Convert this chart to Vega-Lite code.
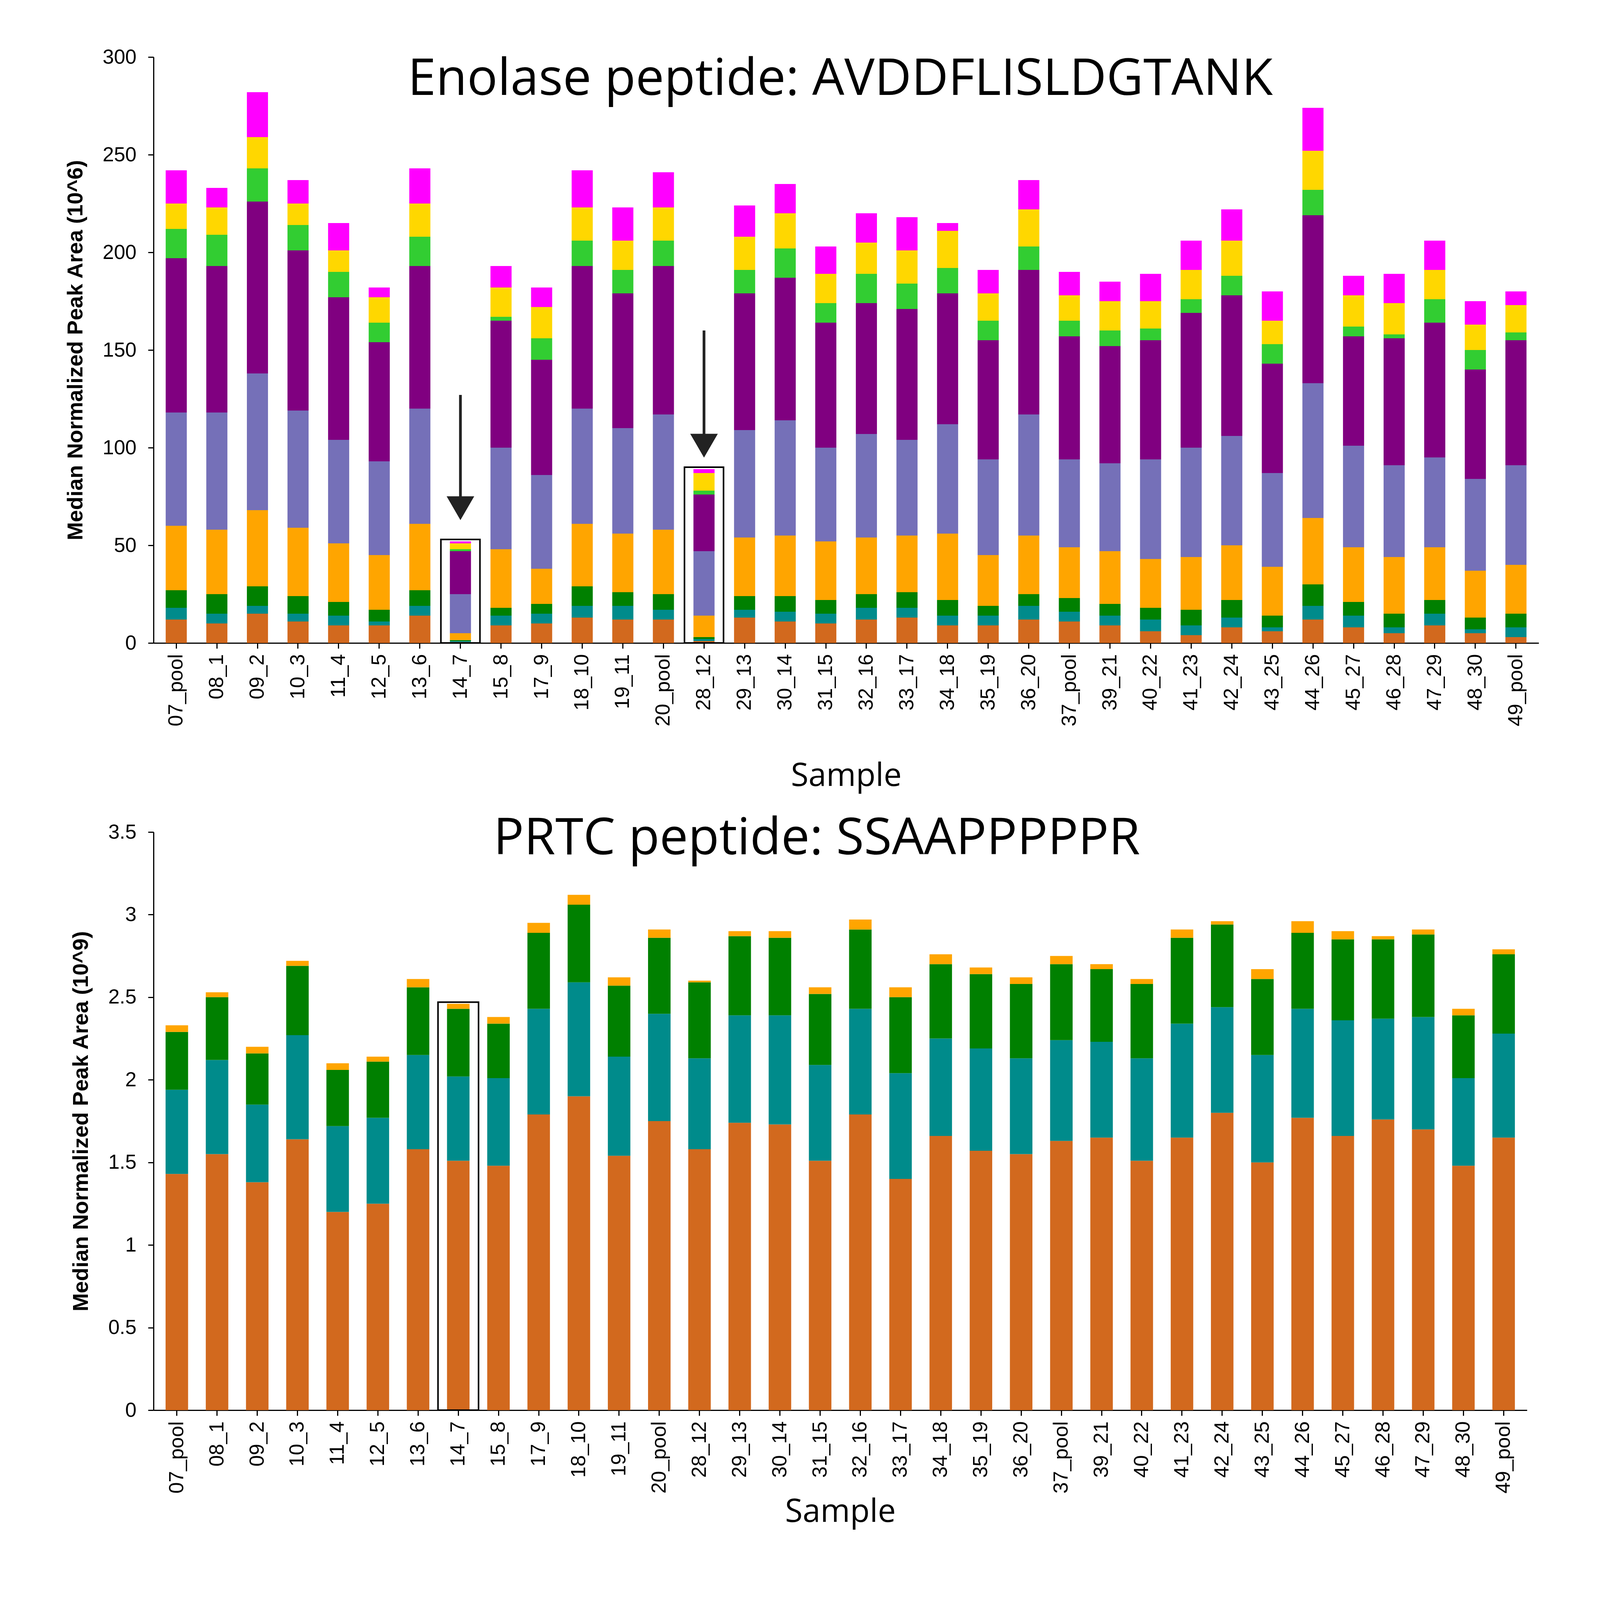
{
  "$schema": "https://vega.github.io/schema/vega-lite/v6.json",
  "background": "white",
  "padding": {"left": 165, "top": 120, "right": 40, "bottom": 20},
  "spacing": 56,
  "config": {
    "font": "Liberation Sans",
    "view": {"stroke": null},
    "axis": {"grid": false, "domainColor": "black", "tickColor": "black", "labelColor": "black", "titleColor": "black", "labelFontSize": 52, "tickSize": 14, "domainWidth": 3, "tickWidth": 3, "labelLimit": 0},
    "title": {"font": "Open Sans", "fontSize": 130, "fontWeight": "normal", "color": "black"}
  },
  "datasets": {
    "eno": [
      {"s": "07_pool", "k1": 12, "k2": 18, "k3": 27, "k4": 60, "k5": 118, "k6": 197, "k7": 212, "k8": 225, "k9": 242},
      {"s": "08_1", "k1": 10, "k2": 15, "k3": 25, "k4": 58, "k5": 118, "k6": 193, "k7": 209, "k8": 223, "k9": 233},
      {"s": "09_2", "k1": 15, "k2": 19, "k3": 29, "k4": 68, "k5": 138, "k6": 226, "k7": 243, "k8": 259, "k9": 282},
      {"s": "10_3", "k1": 11, "k2": 15, "k3": 24, "k4": 59, "k5": 119, "k6": 201, "k7": 214, "k8": 225, "k9": 237},
      {"s": "11_4", "k1": 9, "k2": 14, "k3": 21, "k4": 51, "k5": 104, "k6": 177, "k7": 190, "k8": 201, "k9": 215},
      {"s": "12_5", "k1": 9, "k2": 11, "k3": 17, "k4": 45, "k5": 93, "k6": 154, "k7": 164, "k8": 177, "k9": 182},
      {"s": "13_6", "k1": 14, "k2": 19, "k3": 27, "k4": 61, "k5": 120, "k6": 193, "k7": 208, "k8": 225, "k9": 243},
      {"s": "14_7", "k1": 0.5, "k2": 1, "k3": 1.5, "k4": 5, "k5": 25, "k6": 47, "k7": 48, "k8": 51, "k9": 52},
      {"s": "15_8", "k1": 9, "k2": 14, "k3": 18, "k4": 48, "k5": 100, "k6": 165, "k7": 167, "k8": 182, "k9": 193},
      {"s": "17_9", "k1": 10, "k2": 15, "k3": 20, "k4": 38, "k5": 86, "k6": 145, "k7": 156, "k8": 172, "k9": 182},
      {"s": "18_10", "k1": 13, "k2": 19, "k3": 29, "k4": 61, "k5": 120, "k6": 193, "k7": 206, "k8": 223, "k9": 242},
      {"s": "19_11", "k1": 12, "k2": 19, "k3": 26, "k4": 56, "k5": 110, "k6": 179, "k7": 191, "k8": 206, "k9": 223},
      {"s": "20_pool", "k1": 12, "k2": 17, "k3": 25, "k4": 58, "k5": 117, "k6": 193, "k7": 206, "k8": 223, "k9": 241},
      {"s": "28_12", "k1": 1, "k2": 2, "k3": 3, "k4": 14, "k5": 47, "k6": 76, "k7": 78, "k8": 87, "k9": 89},
      {"s": "29_13", "k1": 13, "k2": 17, "k3": 24, "k4": 54, "k5": 109, "k6": 179, "k7": 191, "k8": 208, "k9": 224},
      {"s": "30_14", "k1": 11, "k2": 16, "k3": 24, "k4": 55, "k5": 114, "k6": 187, "k7": 202, "k8": 220, "k9": 235},
      {"s": "31_15", "k1": 10, "k2": 15, "k3": 22, "k4": 52, "k5": 100, "k6": 164, "k7": 174, "k8": 189, "k9": 203},
      {"s": "32_16", "k1": 12, "k2": 18, "k3": 25, "k4": 54, "k5": 107, "k6": 174, "k7": 189, "k8": 205, "k9": 220},
      {"s": "33_17", "k1": 13, "k2": 18, "k3": 26, "k4": 55, "k5": 104, "k6": 171, "k7": 184, "k8": 201, "k9": 218},
      {"s": "34_18", "k1": 9, "k2": 14, "k3": 22, "k4": 56, "k5": 112, "k6": 179, "k7": 192, "k8": 211, "k9": 215},
      {"s": "35_19", "k1": 9, "k2": 14, "k3": 19, "k4": 45, "k5": 94, "k6": 155, "k7": 165, "k8": 179, "k9": 191},
      {"s": "36_20", "k1": 12, "k2": 19, "k3": 25, "k4": 55, "k5": 117, "k6": 191, "k7": 203, "k8": 222, "k9": 237},
      {"s": "37_pool", "k1": 11, "k2": 16, "k3": 23, "k4": 49, "k5": 94, "k6": 157, "k7": 165, "k8": 178, "k9": 190},
      {"s": "39_21", "k1": 9, "k2": 14, "k3": 20, "k4": 47, "k5": 92, "k6": 152, "k7": 160, "k8": 175, "k9": 185},
      {"s": "40_22", "k1": 6, "k2": 12, "k3": 18, "k4": 43, "k5": 94, "k6": 155, "k7": 161, "k8": 175, "k9": 189},
      {"s": "41_23", "k1": 4, "k2": 9, "k3": 17, "k4": 44, "k5": 100, "k6": 169, "k7": 176, "k8": 191, "k9": 206},
      {"s": "42_24", "k1": 8, "k2": 13, "k3": 22, "k4": 50, "k5": 106, "k6": 178, "k7": 188, "k8": 206, "k9": 222},
      {"s": "43_25", "k1": 6, "k2": 8, "k3": 14, "k4": 39, "k5": 87, "k6": 143, "k7": 153, "k8": 165, "k9": 180},
      {"s": "44_26", "k1": 12, "k2": 19, "k3": 30, "k4": 64, "k5": 133, "k6": 219, "k7": 232, "k8": 252, "k9": 274},
      {"s": "45_27", "k1": 8, "k2": 14, "k3": 21, "k4": 49, "k5": 101, "k6": 157, "k7": 162, "k8": 178, "k9": 188},
      {"s": "46_28", "k1": 5, "k2": 8, "k3": 15, "k4": 44, "k5": 91, "k6": 156, "k7": 158, "k8": 174, "k9": 189},
      {"s": "47_29", "k1": 9, "k2": 15, "k3": 22, "k4": 49, "k5": 95, "k6": 164, "k7": 176, "k8": 191, "k9": 206},
      {"s": "48_30", "k1": 5, "k2": 7, "k3": 13, "k4": 37, "k5": 84, "k6": 140, "k7": 150, "k8": 163, "k9": 175},
      {"s": "49_pool", "k1": 3, "k2": 8, "k3": 15, "k4": 40, "k5": 91, "k6": 155, "k7": 159, "k8": 173, "k9": 180}
    ],
    "prtc": [
      {"s": "07_pool", "k1": 1.43, "k2": 1.94, "k3": 2.29, "k4": 2.33},
      {"s": "08_1", "k1": 1.55, "k2": 2.12, "k3": 2.5, "k4": 2.53},
      {"s": "09_2", "k1": 1.38, "k2": 1.85, "k3": 2.16, "k4": 2.2},
      {"s": "10_3", "k1": 1.64, "k2": 2.27, "k3": 2.69, "k4": 2.72},
      {"s": "11_4", "k1": 1.2, "k2": 1.72, "k3": 2.06, "k4": 2.1},
      {"s": "12_5", "k1": 1.25, "k2": 1.77, "k3": 2.11, "k4": 2.14},
      {"s": "13_6", "k1": 1.58, "k2": 2.15, "k3": 2.56, "k4": 2.61},
      {"s": "14_7", "k1": 1.51, "k2": 2.02, "k3": 2.43, "k4": 2.46},
      {"s": "15_8", "k1": 1.48, "k2": 2.01, "k3": 2.34, "k4": 2.38},
      {"s": "17_9", "k1": 1.79, "k2": 2.43, "k3": 2.89, "k4": 2.95},
      {"s": "18_10", "k1": 1.9, "k2": 2.59, "k3": 3.06, "k4": 3.12},
      {"s": "19_11", "k1": 1.54, "k2": 2.14, "k3": 2.57, "k4": 2.62},
      {"s": "20_pool", "k1": 1.75, "k2": 2.4, "k3": 2.86, "k4": 2.91},
      {"s": "28_12", "k1": 1.58, "k2": 2.13, "k3": 2.59, "k4": 2.6},
      {"s": "29_13", "k1": 1.74, "k2": 2.39, "k3": 2.87, "k4": 2.9},
      {"s": "30_14", "k1": 1.73, "k2": 2.39, "k3": 2.86, "k4": 2.9},
      {"s": "31_15", "k1": 1.51, "k2": 2.09, "k3": 2.52, "k4": 2.56},
      {"s": "32_16", "k1": 1.79, "k2": 2.43, "k3": 2.91, "k4": 2.97},
      {"s": "33_17", "k1": 1.4, "k2": 2.04, "k3": 2.5, "k4": 2.56},
      {"s": "34_18", "k1": 1.66, "k2": 2.25, "k3": 2.7, "k4": 2.76},
      {"s": "35_19", "k1": 1.57, "k2": 2.19, "k3": 2.64, "k4": 2.68},
      {"s": "36_20", "k1": 1.55, "k2": 2.13, "k3": 2.58, "k4": 2.62},
      {"s": "37_pool", "k1": 1.63, "k2": 2.24, "k3": 2.7, "k4": 2.75},
      {"s": "39_21", "k1": 1.65, "k2": 2.23, "k3": 2.67, "k4": 2.7},
      {"s": "40_22", "k1": 1.51, "k2": 2.13, "k3": 2.58, "k4": 2.61},
      {"s": "41_23", "k1": 1.65, "k2": 2.34, "k3": 2.86, "k4": 2.91},
      {"s": "42_24", "k1": 1.8, "k2": 2.44, "k3": 2.94, "k4": 2.96},
      {"s": "43_25", "k1": 1.5, "k2": 2.15, "k3": 2.61, "k4": 2.67},
      {"s": "44_26", "k1": 1.77, "k2": 2.43, "k3": 2.89, "k4": 2.96},
      {"s": "45_27", "k1": 1.66, "k2": 2.36, "k3": 2.85, "k4": 2.9},
      {"s": "46_28", "k1": 1.76, "k2": 2.37, "k3": 2.85, "k4": 2.87},
      {"s": "47_29", "k1": 1.7, "k2": 2.38, "k3": 2.88, "k4": 2.91},
      {"s": "48_30", "k1": 1.48, "k2": 2.01, "k3": 2.39, "k4": 2.43},
      {"s": "49_pool", "k1": 1.65, "k2": 2.28, "k3": 2.76, "k4": 2.79}
    ]
  },
  "vconcat": [
    {
      "width": 3546,
      "height": 1500,
      "title": {"text": "Enolase peptide: AVDDFLISLDGTANK", "offset": -150, "dx": -15},
      "encoding": {
        "x": {"field": "s", "type": "nominal", "sort": null, "title": "Sample",
          "scale": {"paddingInner": 0.48, "paddingOuter": 0.3},
          "axis": {"labelAngle": -90, "labelPadding": 14, "titleFontSize": 82, "titleFontWeight": "normal", "titleFont": "Open Sans", "titlePadding": 100}}
      },
      "layer": [
        {
          "data": {"name": "eno"},
          "transform": [
            {"fold": ["k1", "k2", "k3", "k4", "k5", "k6", "k7", "k8", "k9"], "as": ["seg", "hi"]},
            {"window": [{"op": "lag", "field": "hi", "as": "lo"}], "groupby": ["s"], "sort": [{"field": "seg"}]},
            {"calculate": "datum.lo || 0", "as": "lo"}
          ],
          "mark": {"type": "bar"},
          "encoding": {
            "y": {"field": "lo", "type": "quantitative", "scale": {"domain": [0, 300]},
              "title": "Median Normalized Peak Area (10^6)",
              "axis": {"values": [0, 50, 100, 150, 200, 250, 300], "titleFontSize": 56, "titleFontWeight": "bold", "titlePadding": 40, "labelPadding": 30}},
            "y2": {"field": "hi"},
            "color": {"field": "seg", "type": "nominal", "legend": null,
              "scale": {"domain": ["k1", "k2", "k3", "k4", "k5", "k6", "k7", "k8", "k9"],
                "range": ["#D2691E", "#008B8B", "#008000", "#FFA500", "#7570B8", "#800080", "#32CD32", "#FFD700", "#FF00FF"]}}
          }
        },
        {
          "data": {"values": [{"s": "14_7", "bot": 0, "top": 53}, {"s": "28_12", "bot": 0, "top": 90}]},
          "mark": {"type": "bar", "fillOpacity": 0, "stroke": "black", "strokeWidth": 4, "width": {"band": 1.85}},
          "encoding": {"y": {"field": "bot", "type": "quantitative"}, "y2": {"field": "top"}}
        },
        {
          "data": {"values": [{"s": "14_7", "a": 127, "b": 72}, {"s": "28_12", "a": 160, "b": 104}]},
          "mark": {"type": "rule", "strokeWidth": 7, "color": "#222"},
          "encoding": {"y": {"field": "a", "type": "quantitative"}, "y2": {"field": "b"}}
        },
        {
          "data": {"values": [{"s": "14_7", "b": 69}, {"s": "28_12", "b": 101}]},
          "mark": {"type": "point", "shape": "triangle-down", "filled": true, "color": "#222", "size": 5000, "opacity": 1},
          "encoding": {"y": {"field": "b", "type": "quantitative"}}
        }
      ]
    },
    {
      "width": 3516,
      "height": 1480,
      "title": {"text": "PRTC peptide: SSAAPPPPPR", "offset": -110, "dx": -60},
      "encoding": {
        "x": {"field": "s", "type": "nominal", "sort": null, "title": "Sample",
          "scale": {"paddingInner": 0.44, "paddingOuter": 0.3},
          "axis": {"labelAngle": -90, "labelPadding": 14, "titleFontSize": 82, "titleFontWeight": "normal", "titleFont": "Open Sans", "titlePadding": 20}}
      },
      "layer": [
        {
          "data": {"name": "prtc"},
          "transform": [
            {"fold": ["k1", "k2", "k3", "k4"], "as": ["seg", "hi"]},
            {"window": [{"op": "lag", "field": "hi", "as": "lo"}], "groupby": ["s"], "sort": [{"field": "seg"}]},
            {"calculate": "datum.lo || 0", "as": "lo"}
          ],
          "mark": {"type": "bar"},
          "encoding": {
            "y": {"field": "lo", "type": "quantitative", "scale": {"domain": [0, 3.5]},
              "title": "Median Normalized Peak Area (10^9)",
              "axis": {"values": [0, 0.5, 1, 1.5, 2, 2.5, 3, 3.5], "format": "~g", "titleFontSize": 56, "titleFontWeight": "bold", "titlePadding": 40, "labelPadding": 30}},
            "y2": {"field": "hi"},
            "color": {"field": "seg", "type": "nominal", "legend": null,
              "scale": {"domain": ["k1", "k2", "k3", "k4"], "range": ["#D2691E", "#008B8B", "#008000", "#FFA500"]}}
          }
        },
        {
          "data": {"values": [{"s": "14_7", "bot": 0, "top": 2.47}]},
          "mark": {"type": "bar", "fillOpacity": 0, "stroke": "black", "strokeWidth": 4, "width": {"band": 1.8}},
          "encoding": {"y": {"field": "bot", "type": "quantitative"}, "y2": {"field": "top"}}
        }
      ]
    }
  ]
}
